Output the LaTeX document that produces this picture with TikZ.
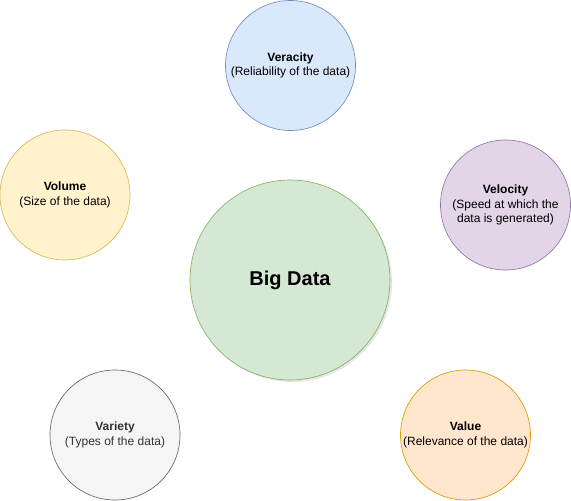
\documentclass[tikz,border=0pt]{standalone}
\usepackage{fontspec}
\setmainfont{Liberation Sans}
\usetikzlibrary{shadows}

\definecolor{blueFill}{HTML}{DAE8FC}  \definecolor{blueLine}{HTML}{6C8EBF}
\definecolor{yellowFill}{HTML}{FFF2CC}\definecolor{yellowLine}{HTML}{D6B656}
\definecolor{purpleFill}{HTML}{E1D5E7}\definecolor{purpleLine}{HTML}{9673A6}
\definecolor{greenFill}{HTML}{D5E8D4} \definecolor{greenLine}{HTML}{82B366}
\definecolor{greyFill}{HTML}{F5F5F5}  \definecolor{greyLine}{HTML}{666666}
\definecolor{greyText}{HTML}{333333}
\definecolor{orangeFill}{HTML}{FFE6CC}\definecolor{orangeLine}{HTML}{D79B00}

\tikzset{
    vbubble/.style={circle, draw, line width=0.65pt, minimum size=130pt, inner sep=0pt,
        align=center, font=\fontsize{12}{14.5}\selectfont},
}

\begin{document}
\begin{tikzpicture}[x=1pt, y=-1pt]  % one unit = one pixel of the reference
    \useasboundingbox (0,0) rectangle (571,501);

    % Central circle
    \node[vbubble, minimum size=200pt, fill=greenFill, draw=greenLine,
          drop shadow={shadow xshift=2pt, shadow yshift=-2pt, opacity=0.2},
          font=\bfseries\fontsize{20}{24}\selectfont] (bigdata) at (290,280) {Big Data};

    % The five V's around it
    \node[vbubble, fill=blueFill, draw=blueLine] (veracity) at (290.5,65.5)
        {\textbf{Veracity}\\(Reliability of the data)};
    \node[vbubble, fill=yellowFill, draw=yellowLine] (volume) at (65,195)
        {\textbf{Volume}\\(Size of the data)};
    \node[vbubble, fill=purpleFill, draw=purpleLine] (velocity) at (505.5,205)
        {\textbf{Velocity}\\(Speed at which the\\data is generated)};
    \node[vbubble, fill=greyFill, draw=greyLine, text=greyText] (variety) at (115,435)
        {\textbf{Variety}\\(Types of the data)};
    \node[vbubble, fill=orangeFill, draw=orangeLine] (value) at (465.5,435)
        {\textbf{Value}\\(Relevance of the data)};

\end{tikzpicture}
\end{document}
